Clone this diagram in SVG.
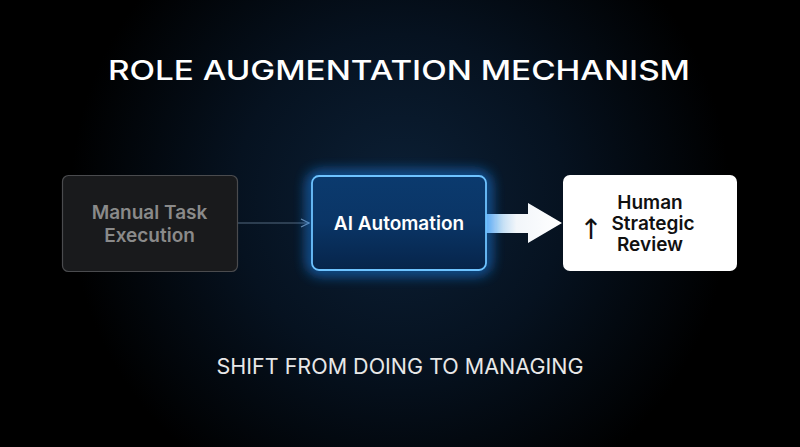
<svg xmlns="http://www.w3.org/2000/svg" width="800" height="447" viewBox="0 0 800 447">
<defs>
<radialGradient id="bg" cx="400" cy="200" r="330" gradientUnits="userSpaceOnUse">
<stop offset="0" stop-color="#0c2036"/>
<stop offset="0.5" stop-color="#061220"/>
<stop offset="1" stop-color="#000000"/>
</radialGradient>
<linearGradient id="aiFill" x1="0" y1="0" x2="0" y2="1">
<stop offset="0" stop-color="#0b3a6e"/>
<stop offset="0.5" stop-color="#0a3566"/>
<stop offset="1" stop-color="#06244a"/>
</linearGradient>
<linearGradient id="bigArrow" x1="486" y1="0" x2="562" y2="0" gradientUnits="userSpaceOnUse">
<stop offset="0" stop-color="#8fc4ee"/>
<stop offset="0.4" stop-color="#f2f6fa"/>
<stop offset="1" stop-color="#ffffff"/>
</linearGradient>
<filter id="glow" x="-30%" y="-40%" width="160%" height="180%">
<feGaussianBlur stdDeviation="7"/>
</filter>
<marker id="thin" markerWidth="10" markerHeight="10" refX="9" refY="5" orient="auto" markerUnits="userSpaceOnUse">
<path d="M1,1 L9,5 L1,9" fill="none" stroke="#6f8aa3" stroke-width="1.2"/>
</marker>
<style>
.lbl{font-family:Inter,"Liberation Sans",sans-serif;font-weight:600;font-size:19px;text-anchor:middle}
</style>
</defs>
<rect width="800" height="447" fill="url(#bg)"/>
<text x="108" y="80" textLength="582" lengthAdjust="spacingAndGlyphs" font-family="Inter,'Liberation Sans',sans-serif" font-size="27" font-weight="500" fill="#ffffff">ROLE AUGMENTATION MECHANISM</text>
<g id="connectors">
<line x1="238" y1="223" x2="309" y2="223" stroke="#52697f" stroke-width="1.2" marker-end="url(#thin)"/>
<path d="M486,214 L528,214 L528,203 L562,223 L528,243 L528,233 L486,233 Z" fill="url(#bigArrow)"/>
</g>
<g id="manual">
<rect x="62.5" y="175.5" width="175" height="96" rx="6" fill="#191a1c" stroke="#4a4b4e" stroke-width="1.2"/>
<text class="lbl" x="149.5" y="219" fill="#8a8a8a">Manual Task</text>
<text class="lbl" x="149.5" y="242" fill="#8a8a8a">Execution</text>
</g>
<g id="ai">
<rect x="312" y="176" width="174" height="94" rx="7" fill="none" stroke="#1e8cff" stroke-width="7" filter="url(#glow)" opacity="0.95"/>
<rect x="312" y="176" width="174" height="94" rx="7" fill="url(#aiFill)" stroke="#6ec3ff" stroke-width="1.8"/>
<text class="lbl" x="399" y="230" fill="#ffffff">AI Automation</text>
</g>
<g id="human">
<rect x="563" y="175" width="174" height="96" rx="7" fill="#ffffff"/>
<text x="591" y="239" font-family="'DejaVu Sans',sans-serif" font-size="28" text-anchor="middle" fill="#111111">↑</text>
<text class="lbl" x="650" y="209" fill="#111111">Human</text>
<text class="lbl" x="653" y="230" fill="#111111">Strategic</text>
<text class="lbl" x="650" y="251" fill="#111111">Review</text>
</g>
<text x="400" y="374" text-anchor="middle" font-family="Inter,'Liberation Sans',sans-serif" font-size="21.5" fill="#e8e8e8">SHIFT FROM DOING TO MANAGING</text>
</svg>
